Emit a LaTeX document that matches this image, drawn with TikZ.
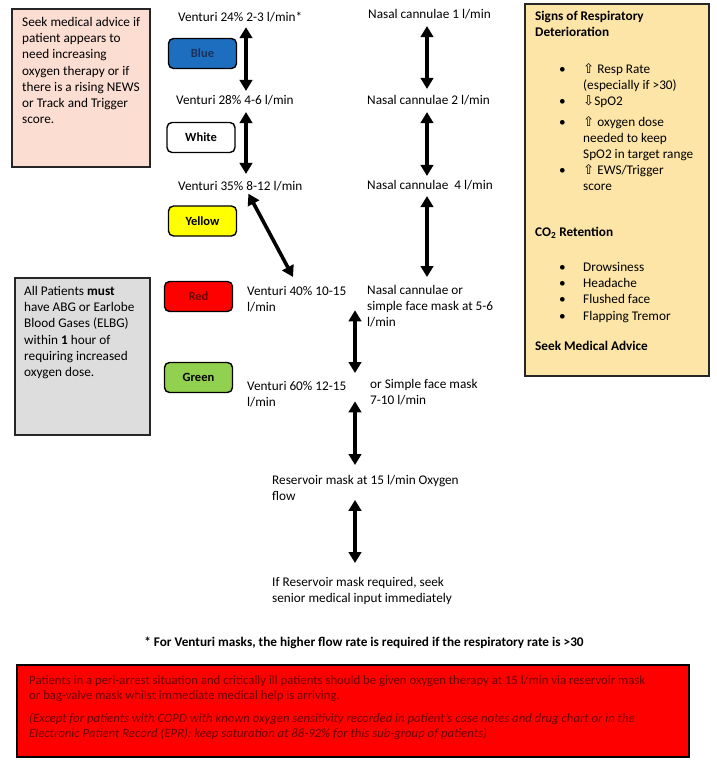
\documentclass[tikz,border=0pt]{standalone}
\usepackage{fontspec}
\setmainfont{Carlito}
\newfontfamily\symfont{DejaVu Sans}
\usetikzlibrary{arrows.meta,calc}
\definecolor{advicepink}{RGB}{251,221,210}
\definecolor{gasgrey}{RGB}{221,221,221}
\definecolor{signgold}{RGB}{252,229,166}
\definecolor{tagblue}{RGB}{30,110,192}
\definecolor{tagnavy}{RGB}{28,50,92}
\definecolor{tagred}{RGB}{255,0,0}
\definecolor{taggreen}{RGB}{146,208,80}
\definecolor{tagyellow}{RGB}{255,255,0}
\definecolor{warnred}{RGB}{255,0,0}
\definecolor{warntext}{RGB}{110,0,0}
\newcommand{\upsym}{{\symfont\char"21E7}}
\newcommand{\downsym}{{\symfont\char"21E9}}
\tikzset{
  txt/.style={anchor=west, inner sep=0pt, font=\fontsize{13.25}{16}\selectfont},
  blk/.style={anchor=north west, inner sep=0pt, align=left, font=\fontsize{13.25}{16.2}\selectfont},
  tag/.style={draw, line width=1.4pt, rounded corners=5pt, minimum width=68pt, minimum height=30pt, inner sep=0pt, font=\fontsize{12.5}{14}\selectfont\bfseries},
  dbl/.style={{Triangle[width=12.5pt,length=11pt]}-{Triangle[width=12.5pt,length=11pt]}, line width=3.6pt},
  panel/.style={draw=black!85, line width=1.8pt}
}

\begin{document}
\begin{tikzpicture}[x=1pt,y=-1pt]
\useasboundingbox (0,0) rectangle (717,768);

%%Left panels
\draw[panel, fill=advicepink] (12,9) rectangle (150,167);
\node[blk] (advice) at (22,17) {Seek medical advice if\\patient appears to\\need increasing\\oxygen therapy or if\\there is a rising NEWS\\or Track and Trigger\\score.};
\draw[panel, fill=gasgrey] (15,278) rectangle (150,435);
\node[blk] (gases) at (24,286) {All Patients \textbf{must}\\have ABG or Earlobe\\Blood Gases (ELBG)\\within \textbf{1} hour of\\requiring increased\\oxygen dose.};

%%Colour tags
\node[tag, fill=tagblue, text=tagnavy] (blue) at (202.5,53.5) {Blue};
\node[tag, fill=white] (white) at (201,137.5) {White};
\node[tag, fill=tagyellow] (yellow) at (202.5,221) {Yellow};
\node[tag, fill=tagred, text=warntext] (red) at (198.5,296.5) {Red};
\node[tag, fill=taggreen] (green) at (198.5,377.5) {Green};

%%Venturi column
\node[txt] (v24) at (178,17) {Venturi 24\% 2-3 l/min*};
\node[txt] (v28) at (176,100) {Venturi 28\% 4-6 l/min};
\node[txt] (v35) at (178,186) {Venturi 35\% 8-12 l/min};
\node[blk] (v40) at (247,286) {Venturi 40\% 10-15\\l/min};
\node[blk] (v60) at (247,381) {Venturi 60\% 12-15\\l/min};

%%Nasal column
\node[txt] (n1) at (368,14) {Nasal cannulae 1 l/min};
\node[txt] (n2) at (367,100) {Nasal cannulae 2 l/min};
\node[txt] (n4) at (367,185) {Nasal cannulae\ \ 4 l/min};
\node[blk] (n56) at (367,285) {Nasal cannulae or\\simple face mask at 5-6\\l/min};
\node[blk] (fm) at (370,379) {or Simple face mask\\7-10 l/min};
\node[blk] (res) at (272,475) {Reservoir mask at 15 l/min Oxygen\\flow};
\node[blk] (senior) at (272,577) {If Reservoir mask required, seek\\senior medical input immediately};

%%Arrows
\coordinate (colA) at (246,0);
\coordinate (colB) at (427,0);
\coordinate (colC) at (355,0);
\draw[dbl, shorten <=5pt, shorten >=4pt] (v24.south -| colA) -- (v28.north -| colA);
\draw[dbl, shorten <=7pt, shorten >=7pt] (v28.south -| colA) -- (v35.north -| colA);
\draw[dbl, shorten <=3pt] ([xshift=69pt]v35.south west) -- ([shift={(46pt,9pt)}]v40.north west);
\draw[dbl, shorten <=7pt, shorten >=6pt] (n1.south -| colB) -- (n2.north -| colB);
\draw[dbl, shorten <=7pt, shorten >=4pt] (n2.south -| colB) -- (n4.north -| colB);
\draw[dbl, shorten <=6pt, shorten >=8pt] (n4.south -| colB) -- (n56.north -| colB);
\draw[dbl, shorten <=-2pt, shorten >=6pt] (v40.south -| colC) -- (fm.north -| colC);
\draw[dbl, shorten <=-4pt, shorten >=10pt] (fm.south -| colC) -- (res.north -| colC);
\draw[dbl, shorten <=-1pt, shorten >=14pt] (res.south -| colC) -- (senior.north -| colC);

%%Right panel
\draw[panel, fill=signgold] (525,4) rectangle (709,376);
\node[blk, font=\fontsize{13.25}{16.2}\selectfont\bfseries] (signs) at (535,11) {Signs of Respiratory\\Deterioration};
\node[blk] (signlist) at (559,62) {\begin{tabular}{@{}p{24pt}@{}l@{}}
\textbullet & \upsym\ Resp Rate\\
 & (especially if >30)\\
\textbullet & \downsym SpO2\\[4pt]
\textbullet & \upsym\ oxygen dose\\
 & needed to keep\\
 & SpO2 in target range\\
\textbullet & \upsym\ EWS/Trigger\\
 & score
\end{tabular}};
\node[blk, font=\fontsize{13.25}{16.2}\selectfont\bfseries] (co2) at (535,227) {CO\textsubscript{2} Retention};
\node[blk] (co2list) at (559,260) {\begin{tabular}{@{}p{24pt}@{}l@{}}
\textbullet & Drowsiness\\
\textbullet & Headache\\
\textbullet & Flushed face\\
\textbullet & Flapping Tremor
\end{tabular}};
\node[blk, font=\fontsize{13.25}{16.2}\selectfont\bfseries] (seek) at (535,341) {Seek Medical Advice};

%%Footnote and warning
\node[font=\fontsize{13.25}{16}\selectfont\bfseries, inner sep=0pt] (note) at (364,643) {* For Venturi masks, the higher flow rate is required if the respiratory rate is >30};
\draw[panel, draw=black, fill=warnred] (17,665) rectangle (689,757);
\node[blk, text=warntext, font=\fontsize{12.75}{15.5}\selectfont] (warn) at (29,675) {Patients in a peri-arrest situation and critically ill patients should be given oxygen therapy at 15 l/min via reservoir mask\\or bag-valve mask whilst immediate medical help is arriving.\\[7pt]
\textit{(Except for patients with COPD with known oxygen sensitivity recorded in patient's case notes and drug chart or in the}\\
\textit{Electronic Patient Record (EPR): keep saturation at 88-92\% for this sub-group of patients)}};

\end{tikzpicture}
\end{document}
